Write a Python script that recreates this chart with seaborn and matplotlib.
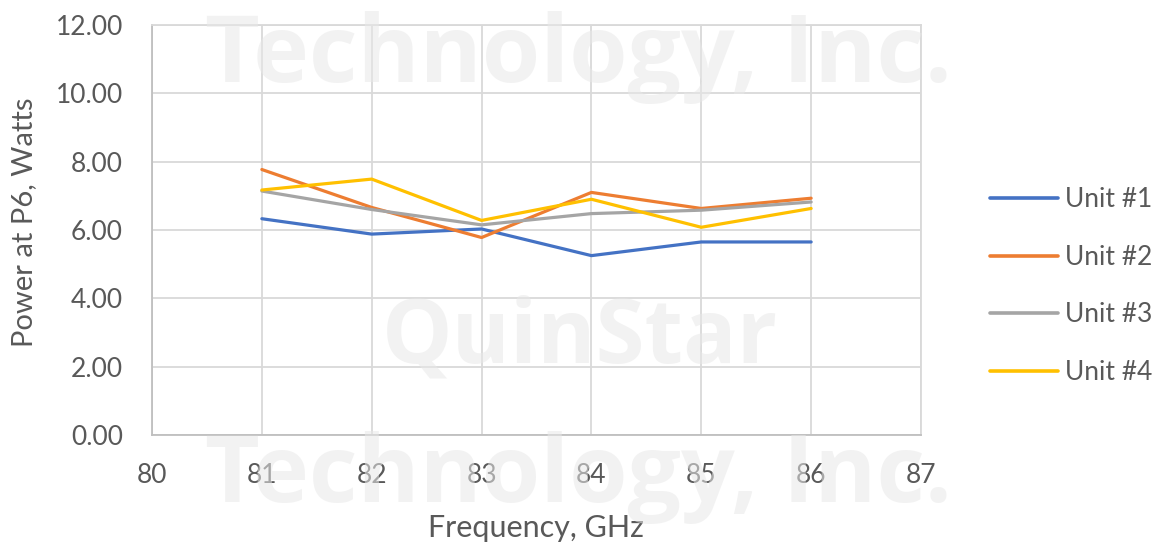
import numpy as np
import pandas as pd
import matplotlib
matplotlib.use('Agg')
import matplotlib.pyplot as plt
import seaborn as sns

freq = [81, 82, 83, 84, 85, 86]
unit1 = [6.33, 5.88, 6.03, 5.25, 5.65, 5.65]
unit2 = [7.77, 6.66, 5.78, 7.10, 6.63, 6.93]
unit3 = [7.14, 6.60, 6.15, 6.48, 6.58, 6.82]
unit4 = [7.17, 7.49, 6.28, 6.90, 6.08, 6.63]
units = ['Unit #1', 'Unit #2', 'Unit #3', 'Unit #4']
colors = ['#4472c4', '#ed7d31', '#a5a5a5', '#ffc000']

df = pd.concat([pd.DataFrame({'freq': freq, 'power': v, 'unit': u})
                for u, v in zip(units, [unit1, unit2, unit3, unit4])])

sns.set_style('white')
plt.rcParams['font.family'] = ['Lato', 'DejaVu Sans']
TXT = '#595959'

fig = plt.figure(figsize=(11.57, 5.44), dpi=100)
ax = fig.add_axes([152 / 1157, 1 - 435 / 544, (921 - 152) / 1157, (435 - 25) / 544])
sns.lineplot(data=df, x='freq', y='power', hue='unit', palette=colors, linewidth=2.3,
             ax=ax, zorder=3)

ax.set_xlim(80, 87); ax.set_ylim(0, 12)
ax.set_xticks(range(80, 88))
ax.set_yticks(np.arange(0, 13, 2))
ax.set_yticklabels([f'{v:.2f}' for v in np.arange(0, 13, 2)])
ax.grid(True, color='#d9d9d9', linewidth=1.3)
ax.set_axisbelow(True)
for s in ax.spines.values():
    s.set_color('#d9d9d9'); s.set_linewidth(1.3)
ax.spines['left'].set_color('#bfbfbf'); ax.spines['bottom'].set_color('#bfbfbf')
ax.tick_params(axis='both', length=0, colors=TXT, labelsize=19)
ax.tick_params(axis='x', pad=20)
ax.tick_params(axis='y', pad=21)
ax.set_xlabel('Frequency, GHz', color=TXT, fontsize=22)
ax.set_ylabel('Power at P6, Watts', color=TXT, fontsize=21)
ax.xaxis.set_label_coords(0.5, (435 - 514) / 410)
ax.yaxis.set_label_coords((37 - 152) / 769, 0.52)

leg = ax.legend(loc='center left', bbox_to_anchor=(1.09, 0.363), frameon=False,
                fontsize=19, labelspacing=1.23, handlelength=2.55, handletextpad=0.3,
                borderpad=0, borderaxespad=0)
for t in leg.get_texts():
    t.set_color(TXT)
for h in leg.get_lines():
    h.set_linewidth(2.6)

# watermark
wm = dict(ha='center', va='baseline', fontweight='bold', color='#e8e8e8',
          alpha=0.55, zorder=10, family=['Open Sans', 'DejaVu Sans'],
          transform=fig.transFigure)
fig.text(578 / 1157, 1 - 82 / 544, 'Technology, Inc.', fontsize=68, **wm)
fig.text(580 / 1157, 1 - 363 / 544, 'QuinStar', fontsize=64, **wm)
fig.text(578 / 1157, 1 - 502 / 544, 'Technology, Inc.', fontsize=68, **wm)

fig.savefig('out.png', dpi=100)
